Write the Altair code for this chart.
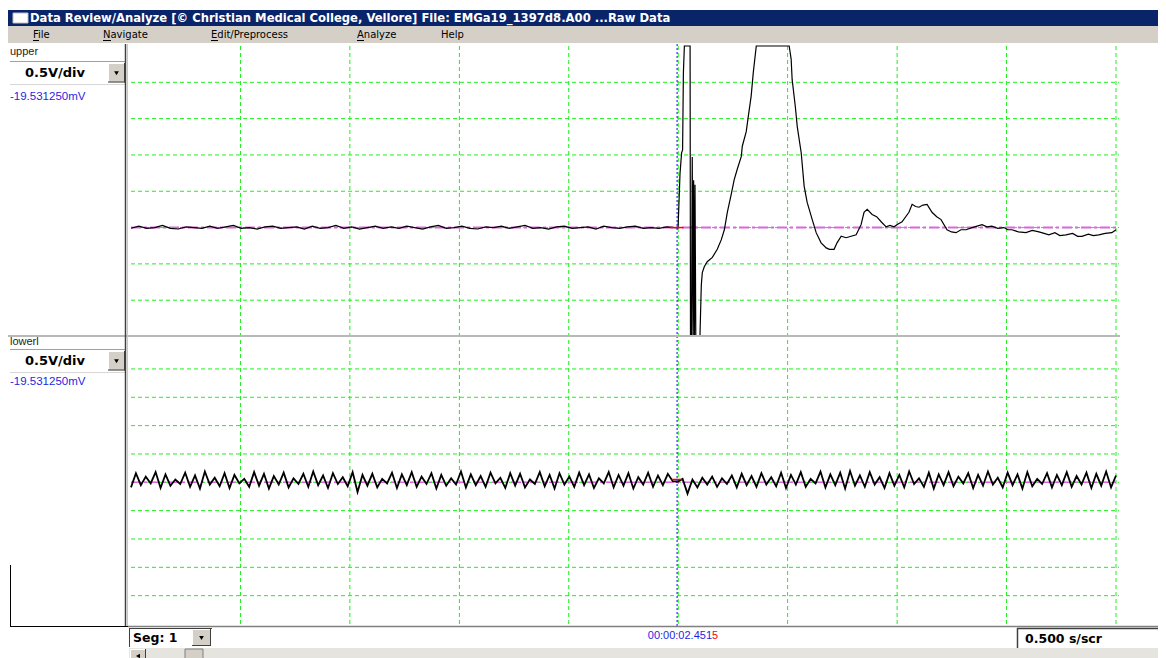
import altair as alt
import pandas as pd
import numpy as np

OFF = 8  # page margin, chart starts at page (8, 8)

# ---------------- data ----------------
# upper channel: time in ms within the 0.500 s screen, value in V
upper_base_t = [float(t) for t in np.arange(0, 280, 4)]
upper_base_v = [-0.01, 0.02, -0.01, 0.0, 0.03, -0.01, -0.02, 0.01, 0.0, -0.01,
                0.02, -0.01, 0.01, 0.03, -0.01, 0.0, -0.02, 0.01, 0.02, -0.01,
                0.0, 0.01, -0.02, 0.02, -0.01, 0.0, 0.03, -0.01, 0.01, -0.02,
                0.0, 0.02, -0.01, 0.01, -0.01, 0.02, 0.0, -0.02, 0.01, 0.03,
                -0.01, 0.0, 0.02, -0.01, -0.02, 0.01, 0.0, 0.02, -0.01, 0.01,
                0.03, -0.01, 0.0, -0.02, 0.01, 0.02, -0.01, 0.0, 0.01, -0.02,
                0.02, 0.0, -0.01, 0.01, 0.02, -0.01, 0.0, -0.01, 0.01, 0.0]
upper_evt_t = [277.7, 278.7, 279.5, 280.0, 280.4, 280.9, 283.8, 284.0, 284.5, 284.9,
               285.3, 285.6, 286.0, 286.3, 286.7, 288.8, 289.3, 289.5, 290.0, 291.0,
               292.5, 295.1, 297.6, 299.6, 301.2, 302.7, 304.7, 306.2, 307.7, 309.8,
               310.3, 312.3, 313.3, 314.8, 315.9, 317.4, 334.1, 335.1, 335.6, 337.2,
               338.2, 340.2, 341.7, 343.2, 345.8, 347.8, 350.3, 352.9, 354.5, 356.9,
               358.4, 360.5, 363.0, 365.5, 368.1, 370.6, 372.1, 373.7, 376.2, 378.5,
               380.8, 383.3, 385.3, 387.3, 389.4, 391.4, 394.9, 396.5, 398.3, 400.0,
               402.0, 404.1, 406.6, 409.0, 411.2, 414.2, 416.5, 418.8, 421.3, 423.9,
               426.9, 429.5, 432.0, 434.5, 437.0, 440.0, 443.1, 445.0, 447.2, 450.5,
               454.3, 457.5, 460.9, 463.5, 465.9, 469.0, 471.5, 474.6, 478.0, 480.5,
               482.7, 486.0, 488.5, 491.3, 494.5, 497.9, 500.0]
upper_evt_v = [0.0, 0.75, 1.03, 1.07, 2.13, 2.5, 2.5, -1.5, -1.5, 0.97,
               -1.5, 0.65, -1.5, 0.59, -1.5, -1.5, -0.99, -0.79, -0.62, -0.54,
               -0.47, -0.41, -0.30, -0.17, -0.03, 0.21, 0.46, 0.66, 0.80, 0.98,
               1.12, 1.32, 1.52, 1.81, 2.14, 2.5, 2.5, 2.32, 2.04, 1.67,
               1.39, 1.03, 0.57, 0.35, 0.11, -0.07, -0.21, -0.28, -0.30, -0.30,
               -0.21, -0.12, -0.14, -0.12, -0.10, 0.04, 0.21, 0.25, 0.18, 0.15,
               0.08, 0.01, 0.03, 0.01, 0.05, 0.08, 0.21, 0.32, 0.29, 0.28,
               0.31, 0.32, 0.21, 0.15, 0.11, -0.03, -0.06, -0.07, -0.03, -0.03,
               0.0, 0.02, 0.04, 0.01, 0.02, -0.01, 0.0, -0.03, -0.03, -0.06,
               -0.07, -0.04, -0.06, -0.08, -0.10, -0.07, -0.11, -0.10, -0.08, -0.12,
               -0.12, -0.09, -0.11, -0.10, -0.08, -0.07, -0.03]

# lower channel: one value every 2.5 ms
lower_v = [-0.09, 0.16, -0.05, 0.10, -0.02, 0.18, -0.10, 0.14, -0.06, 0.05,
           -0.03, 0.17, -0.08, 0.12, -0.11, 0.19, -0.04, 0.08, -0.07, 0.16,
           -0.10, 0.13, -0.02, 0.06, -0.08, 0.18, -0.06, 0.15, -0.11, 0.11,
           -0.04, 0.17, -0.09, 0.07, -0.03, 0.15, -0.08, 0.19, -0.05, 0.12,
           -0.10, 0.16, -0.03, 0.09, -0.07, 0.18, -0.17, 0.13, -0.06, 0.15,
           -0.09, 0.06, -0.02, 0.17, -0.10, 0.14, -0.05, 0.18, -0.08, 0.10,
           -0.03, 0.16, -0.11, 0.13, -0.06, 0.07, -0.04, 0.19, -0.09, 0.14,
           -0.05, 0.11, -0.08, 0.17, -0.02, 0.08, -0.10, 0.16, -0.06, 0.15,
           -0.09, 0.05, -0.03, 0.18, -0.07, 0.13, -0.11, 0.16, -0.04, 0.10,
           -0.08, 0.17, -0.05, 0.14, -0.10, 0.07, -0.02, 0.18, -0.09, 0.13,
           -0.06, 0.16, -0.11, 0.09, -0.04, 0.17, -0.08, 0.12, -0.05, 0.15,
           0.02, 0.01, 0.06, -0.20, 0.05, -0.09, 0.08, -0.04, 0.10, -0.08,
           0.07, -0.03, 0.12, -0.09, 0.15, -0.05, 0.11, -0.08, 0.16, -0.04,
           0.09, -0.07, 0.17, -0.10, 0.13, -0.04, 0.18, -0.08, 0.06, -0.02,
           0.19, -0.09, 0.14, -0.05, 0.17, -0.11, 0.20, -0.06, 0.12, -0.08,
           0.18, -0.04, 0.09, -0.10, 0.16, -0.06, 0.13, -0.09, 0.19, -0.03,
           0.07, -0.08, 0.17, -0.11, 0.14, -0.05, 0.18, -0.07, 0.10, -0.02,
           0.16, -0.10, 0.13, -0.06, 0.19, -0.04, 0.08, -0.09, 0.17, -0.05,
           0.14, -0.11, 0.18, -0.07, 0.06, -0.03, 0.16, -0.09, 0.13, -0.05,
           0.18, -0.08, 0.11, -0.04, 0.17, -0.10, 0.15, -0.06, 0.19, -0.09,
           0.12]
lower_t = [float(i) * 2.5 for i in range(len(lower_v))]

vgrid_t = [55.6, 111.1, 166.7, 222.2, 277.8, 333.3, 388.9, 444.4, 500.0]
upper_grid_v = [2.0, 1.5, 1.0, 0.5, 0.0, -0.5, -1.0]
lower_grid_v = [2.0, 1.5, 1.0, 0.5, 0.0, -0.5, -1.0, -1.5, -2.0]
cursor_t = [277.2]
cursor_mark = {"t0": [273.5, 274.5], "t1": [280.5, 279.5]}

title_text = "Data Review/Analyze [\u00a9 Christian Medical College, Vellore] File: EMGa19_1397d8.A00 ...Raw Data"
menu_items = ["File", "Navigate", "Edit/Preprocess", "Analyze", "Help"]
chan_names = ["upper", "lowerl"]
scale_label = "0.5V/div"
offset_label = "-19.531250mV"
time_main = "00:00:02.451"
time_last = "5"
seg_label = "Seg: 1"
speed_label = "0.500 s/scr"

# ---------------- helpers ----------------
one = pd.DataFrame({"k": [0]})
GREEN = "#1EF01E"
PINK = "#DD66DD"
BTN = "#D4D0C8"


def P(v):
    return v - OFF


def rect(x1, y1, x2, y2, fill, stroke=None, sw=1):
    kw = dict(fill=fill)
    if stroke:
        kw.update(stroke=stroke, strokeWidth=sw)
    else:
        kw.update(strokeWidth=0)
    return alt.Chart(one).mark_rect(**kw).encode(
        x=alt.value(P(x1)), x2=alt.value(P(x2)),
        y=alt.value(P(y1)), y2=alt.value(P(y2)))


def hline(x1, x2, y, color, sw=1):
    return alt.Chart(one).mark_rule(color=color, strokeWidth=sw).encode(
        x=alt.value(P(x1)), x2=alt.value(P(x2)), y=alt.value(P(y)))


def vline(x, y1, y2, color, sw=1):
    return alt.Chart(one).mark_rule(color=color, strokeWidth=sw).encode(
        x=alt.value(P(x)), y=alt.value(P(y1)), y2=alt.value(P(y2)))


def text(x, y, s, size, color="black", bold=False, align="left", font="DejaVu Sans"):
    return alt.Chart(one).mark_text(
        align=align, baseline="middle", fontSize=size, font=font,
        fontWeight="bold" if bold else "normal", color=color).encode(
        x=alt.value(P(x)), y=alt.value(P(y)), text=alt.value(s))


def tri(x, y, shape="triangle-down", size=22):
    return alt.Chart(one).mark_point(shape=shape, filled=True, size=size,
                                     color="black", opacity=1).encode(
        x=alt.value(P(x)), y=alt.value(P(y)))


def button(x1, y1, x2, y2, shape="triangle-down"):
    return [rect(x1, y1, x2, y2, BTN),
            hline(x1, x2, y1 + 0.5, "white"), vline(x1 + 0.5, y1, y2, "white"),
            hline(x1, x2, y2 - 0.5, "#404040"), vline(x2 - 0.5, y1, y2, "#404040"),
            tri((x1 + x2) / 2, (y1 + y2) / 2 + 0.5, shape)]


xs = alt.Scale(domain=[0, 500], range=[P(131), P(1116)], nice=False, zero=False)
ys_up = alt.Scale(domain=[-1.5, 2.5], range=[P(336.5), P(46)], nice=False, zero=False)
ys_lo = alt.Scale(domain=[-2.5, 2.5], range=[P(624), P(340.6)], nice=False, zero=False)

layers = []

# title bar and menu
layers.append(rect(0, 10, 1170, 26, "#0A246A"))
layers.append(rect(13, 13, 28, 23, "white", stroke="#C0C0C0"))
layers.append(text(30, 18.5, title_text, 11.6, "white", bold=True))
layers.append(rect(1158, 12, 1170, 24, BTN))
layers.append(rect(0, 26, 1170, 43, BTN))
menu_x = [33, 103, 211, 357, 441]
for mx, item in zip(menu_x, menu_items):
    layers.append(text(mx, 34.5, item, 10, "black"))
for ux, uw in zip(menu_x[:4], [6, 8, 7, 7]):
    layers.append(hline(ux, ux + uw, 40.5, "black"))

# grids
vg = pd.DataFrame({"t": vgrid_t})
layers.append(alt.Chart(vg).mark_rule(color=GREEN, strokeWidth=1, strokeDash=[4, 3]).encode(
    x=alt.X("t:Q", scale=xs, axis=None), y=alt.value(P(46)), y2=alt.value(P(626))))
ug = pd.DataFrame({"v": upper_grid_v})
layers.append(alt.Chart(ug).mark_rule(color=GREEN, strokeWidth=1, strokeDash=[4, 3]).encode(
    y=alt.Y("v:Q", scale=ys_up, axis=None), x=alt.value(P(131)), x2=alt.value(P(1119))))
lg = pd.DataFrame({"v": lower_grid_v})
layers.append(alt.Chart(lg).mark_rule(color=GREEN, strokeWidth=1, strokeDash=[4, 3]).encode(
    y=alt.Y("v:Q", scale=ys_lo, axis=None), x=alt.value(P(131)), x2=alt.value(P(1119))))

# pink baselines
zero = pd.DataFrame({"v": [0.0]})
layers.append(alt.Chart(zero).mark_rule(color=PINK, strokeWidth=2, strokeDash=[10, 3, 3, 3]).encode(
    y=alt.Y("v:Q", scale=ys_up, axis=None), x=alt.value(P(131)), x2=alt.value(P(1118))))
layers.append(alt.Chart(zero).mark_rule(color=PINK, strokeWidth=1.5, strokeDash=[10, 3, 3, 3]).encode(
    y=alt.Y("v:Q", scale=ys_lo, axis=None), x=alt.value(P(131)), x2=alt.value(P(1118))))

# traces
up_df = pd.DataFrame({"t": upper_base_t + upper_evt_t, "v": upper_base_v + upper_evt_v})
layers.append(alt.Chart(up_df).mark_line(color="black", strokeWidth=1.2).encode(
    x=alt.X("t:Q", scale=xs, axis=None), y=alt.Y("v:Q", scale=ys_up, axis=None)))
lo_df = pd.DataFrame({"t": lower_t, "v": lower_v})
layers.append(alt.Chart(lo_df).mark_line(color="black", strokeWidth=1.8).encode(
    x=alt.X("t:Q", scale=xs, axis=None), y=alt.Y("v:Q", scale=ys_lo, axis=None)))

# red cursor marks
cm_up = pd.DataFrame({"t0": [cursor_mark["t0"][0]], "t1": [cursor_mark["t1"][0]], "v": [0.0]})
layers.append(alt.Chart(cm_up).mark_rule(color="red", strokeWidth=1.5).encode(
    x=alt.X("t0:Q", scale=xs, axis=None), x2="t1:Q", y=alt.Y("v:Q", scale=ys_up, axis=None)))
cm_lo = pd.DataFrame({"t0": [cursor_mark["t0"][1]], "t1": [cursor_mark["t1"][1]], "v": [0.05]})
layers.append(alt.Chart(cm_lo).mark_rule(color="red", strokeWidth=1.5).encode(
    x=alt.X("t0:Q", scale=xs, axis=None), x2="t1:Q", y=alt.Y("v:Q", scale=ys_lo, axis=None)))

# blue cursor
layers.append(alt.Chart(pd.DataFrame({"t": cursor_t})).mark_rule(
    color="#0000FF", strokeWidth=1, strokeDash=[2, 2]).encode(
    x=alt.X("t:Q", scale=xs, axis=None), y=alt.value(P(44)), y2=alt.value(P(627))))

# left panel
panel_rows = [(52, 61, 84.5, 73, 97), (342, 349, 372.5, 361, 382)]
for name, (ly, top, bot, cy, oy) in zip(chan_names, panel_rows):
    layers.append(text(10, ly, name, 11, "#222222", font="Liberation Sans"))
    layers.append(hline(10, 126, top + 0.5, "#A0A0A0"))
    layers.append(hline(10, 126, bot, "#D8D8D8"))
    layers.append(text(55, cy, scale_label, 13, "black", bold=True, align="center"))
    layers += button(108, top + 2, 125, bot - 2)
    layers.append(text(10, oy, offset_label, 11.5, "#1F1FE0", font="Liberation Sans"))

layers.append(rect(0, 335, 1120, 337, "#B8B8B8"))
layers.append(vline(125.5, 44, 627, "#404040", 1.5))
layers.append(vline(127.5, 44, 627, "#C8C8C8", 1))
layers.append(vline(10.5, 565, 627, "black", 1))
layers.append(hline(10, 128, 626.5, "black", 1))

# status bar
layers.append(hline(128, 1170, 626.5, "#808080", 1.5))
layers.append(rect(129, 628, 212, 647, "white"))
layers.append(vline(129.5, 628, 647, "#404040"))
layers.append(hline(129, 212, 628.5, "#404040"))
layers.append(text(133, 638, seg_label, 12.5, "black", bold=True))
layers += button(192, 629, 211, 646)
layers.append(text(712, 636, time_main, 11, "#1F1FE0", align="right", font="Liberation Sans"))
layers.append(text(712, 636, time_last, 11, "#FF0000", font="Liberation Sans"))
layers.append(rect(1017, 628, 1170, 648, "white"))
layers.append(vline(1017.5, 628, 648, "#404040", 1.5))
layers.append(hline(1017, 1170, 628.5, "#404040", 1.5))
layers.append(text(1025, 639, speed_label, 12.5, "black", bold=True))
layers.append(rect(129, 648, 1170, 662, "#E6E4DE"))
layers += button(130, 649, 146, 662, shape="triangle-left")
layers.append(rect(185, 649, 203, 662, BTN, stroke="#808080"))

chart = alt.layer(*layers).resolve_scale(
    x="independent", y="independent"
).properties(
    width=1150, height=650, padding=0,
    autosize=alt.AutoSizeParams(type="none"), background="white"
).configure_view(stroke=None)

chart.save("out.html", embed_options={"renderer": "svg", "actions": False})
